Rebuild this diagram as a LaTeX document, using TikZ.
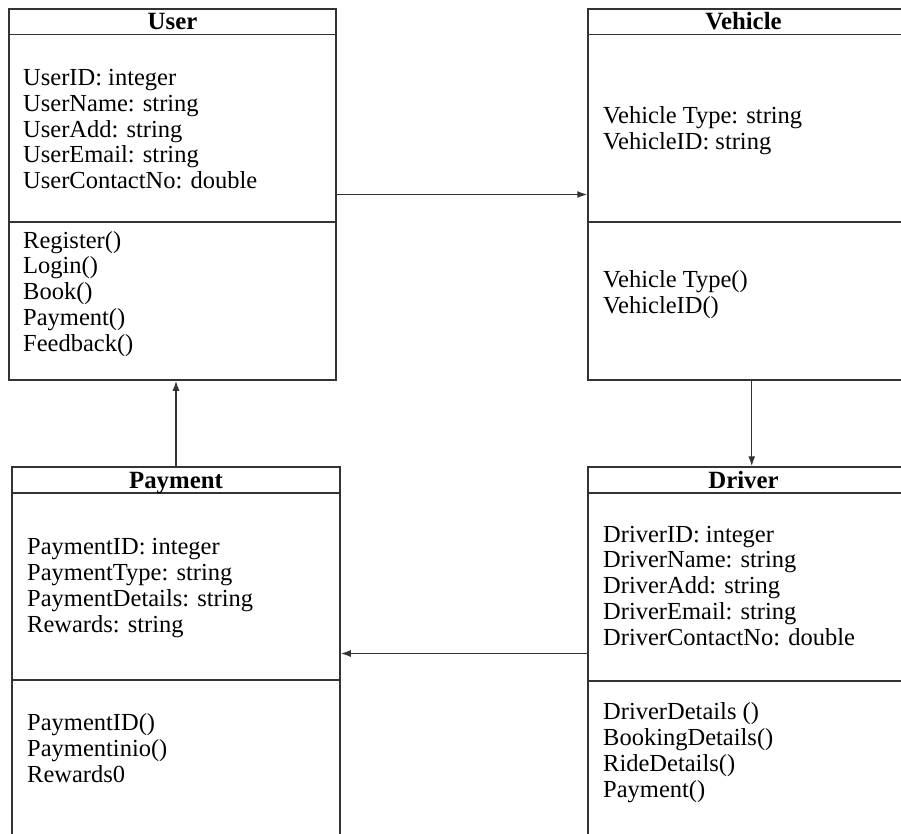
\documentclass[tikz,border=0pt]{standalone}
\usepackage{fontspec}
\setmainfont{Liberation Serif}
\usetikzlibrary{arrows.meta,positioning}

\tikzset{
  classbox/.style={draw=black!80, line width=1.5pt, inner sep=0pt, fill=white},
  classrule/.style={draw=black!80, line width=1.5pt},
  headtext/.style={font=\fontsize{24.8}{26}\selectfont\bfseries, inner sep=0pt, anchor=base},
  % base west = baseline of the last line
  membertext/.style={font=\fontsize{24.5}{25.7}\selectfont, inner sep=0pt, anchor=base west, align=left},
  link/.style={draw=black!80, line width=1.4pt, -{Latex[length=10pt,width=7pt]}}
}

\begin{document}
\begin{tikzpicture}[x=1pt, y=-1pt]
\useasboundingbox (0,0) rectangle (901,834);

%%%%% Class boxes %%%%%
\node[classbox, minimum width=327pt, minimum height=371pt] (user) at (172.5,194.5) {};
\node[classbox, minimum width=313.5pt, minimum height=371pt] (vehicle) at (744.75,194.5) {};
\node[classbox, minimum width=328pt, minimum height=373pt] (payment) at (176,653.5) {};
\node[classbox, minimum width=313.5pt, minimum height=373pt] (driver) at (744.75,653.5) {};

%%%%% Compartments %%%%%
\draw[classrule] (user.west |- 0,34.5) -- (user.east |- 0,34.5);
\draw[classrule] (user.west |- 0,222) -- (user.east |- 0,222);
\draw[classrule] (vehicle.west |- 0,34.5) -- (vehicle.east |- 0,34.5);
\draw[classrule] (vehicle.west |- 0,222) -- (vehicle.east |- 0,222);
\draw[classrule] (payment.west |- 0,493) -- (payment.east |- 0,493);
\draw[classrule] (payment.west |- 0,680) -- (payment.east |- 0,680);
\draw[classrule] (driver.west |- 0,493) -- (driver.east |- 0,493);
\draw[classrule] (driver.west |- 0,681) -- (driver.east |- 0,681);

%%%%% Names %%%%%
\node[headtext] (userhead) at (172.5,30) {User};
\node[headtext] (vehiclehead) at (743.5,30) {Vehicle};
\node[headtext] (paymenthead) at (176,488) {Payment};
\node[headtext] (driverhead) at (743.5,488) {Driver};

%%%%% Attributes and methods %%%%%
\node[membertext] (userattr) at (23,188.5) {UserID: integer\\UserName: string\\UserAdd: string\\UserEmail: string\\UserContactNo: double};
\node[membertext] (userop) at (23,351) {Register()\\Login()\\Book()\\Payment()\\Feedback()};
\node[membertext] (vehicleattr) at (603,149.5) {Vehicle Type: string\\VehicleID: string};
\node[membertext] (vehicleop) at (603,313.5) {Vehicle Type()\\VehicleID()};
\node[membertext] (paymentattr) at (27,632) {PaymentID: integer\\PaymentType: string\\PaymentDetails: string\\Rewards: string};
\node[membertext] (paymentop) at (27,782) {PaymentID()\\Paymentinio()\\Rewards0};
\node[membertext] (driverattr) at (603,645) {DriverID: integer\\DriverName: string\\DriverAdd: string\\DriverEmail: string\\DriverContactNo: double};
\node[membertext] (driverop) at (603,797) {DriverDetails ()\\BookingDetails()\\RideDetails()\\Payment()};

%%%%% Associations %%%%%
\draw[link] (user.east) -- (vehicle.west);
\draw[link] ([xshift=7pt]vehicle.south) -- ([xshift=7pt]driver.north);
\draw[link] (driver.west) -- (payment.east);
\draw[link] (payment.north) -- (payment.north |- user.south);
\end{tikzpicture}
\end{document}
